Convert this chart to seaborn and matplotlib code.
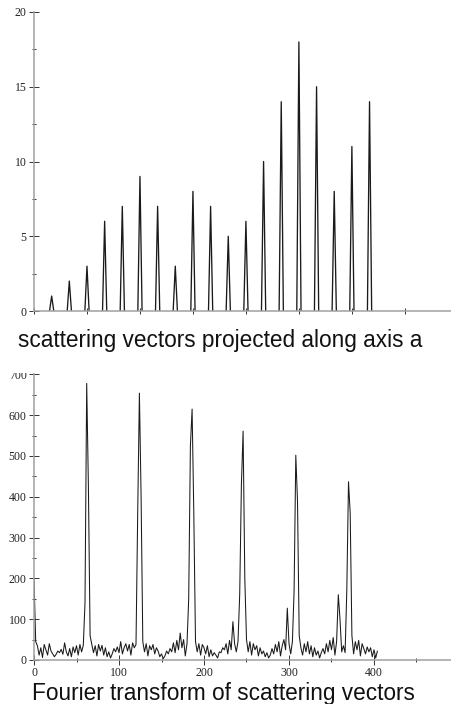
import numpy as np
import pandas as pd
import matplotlib
matplotlib.use('Agg')
import matplotlib.pyplot as plt
from matplotlib.ticker import MultipleLocator, NullFormatter
from matplotlib.patches import Rectangle
import seaborn as sns

# Top panel: peak heights of scattering vectors projected along axis a
peak_pos = list(range(1, 20))
peak_height = [1, 2, 3, 6, 7, 9, 7, 3, 8, 7, 5, 6, 10, 14, 18, 15, 8, 11, 14]

# Bottom panel: Fourier transform, sampled every 2 units from 0 to 404
ft_step = 2
ft_values = [
    200, 45, 35, 12, 30, 6, 38, 25, 12, 40,        # 0-18
    22, 15, 8, 14, 22, 18, 26, 14, 42, 20,         # 20-38
    10, 28, 8, 32, 18, 35, 12, 38, 20, 36,         # 40-58
    140, 678, 425, 60, 38, 18, 35, 10, 38, 22,     # 60-78
    36, 12, 30, 8, 20, 5, 15, 28, 20, 32,          # 80-98
    18, 45, 15, 30, 40, 22, 38, 12, 42, 30,        # 100-118
    38, 360, 654, 400, 45, 20, 40, 10, 35, 25,     # 120-138
    38, 15, 30, 22, 8, 15, 3, 10, 22, 15,          # 140-158
    28, 20, 42, 18, 48, 25, 66, 30, 50, 10,        # 160-178
    40, 150, 525, 615, 360, 45, 20, 40, 12, 38,    # 180-198
    30, 15, 35, 8, 25, 10, 18, 12, 5, 20,          # 200-218
    18, 30, 25, 40, 15, 48, 25, 94, 40, 20,        # 220-238
    45, 160, 430, 561, 200, 50, 20, 45, 12, 40,    # 240-258
    25, 35, 10, 30, 15, 22, 8, 18, 5, 12,          # 260-278
    28, 15, 38, 20, 45, 10, 35, 50, 25, 127,       # 280-298
    40, 15, 45, 170, 502, 390, 60, 30, 12, 40,     # 300-318
    20, 45, 15, 35, 8, 30, 12, 22, 5, 18,          # 320-338
    28, 15, 40, 20, 48, 25, 55, 12, 45, 160,       # 340-358
    100, 20, 35, 18, 170, 437, 360, 60, 15, 45,    # 360-378
    25, 48, 10, 40, 28, 15, 32, 20, 30, 8,         # 380-398
    25, 5, 22,                                     # 400-404
]

top_title = "scattering vectors projected along axis a"
bottom_title = "Fourier transform of scattering vectors"

sns.set_style("ticks")
plt.rcParams['font.family'] = ['Liberation Serif', 'DejaVu Serif']

W, H = 452, 704
fig = plt.figure(figsize=(W / 100, H / 100), dpi=100)

spine_col = '#a0a0a0'
line_col = '#1a1a1a'


def style_axes(ax):
    sns.despine(ax=ax)
    for side in ('left', 'bottom'):
        ax.spines[side].set_color(spine_col)
        ax.spines[side].set_linewidth(1.1)
    ax.tick_params(which='major', direction='inout', length=6.5, width=0.7,
                   color='#333333', labelsize=8.5, pad=2, labelcolor='#222222')
    ax.tick_params(which='minor', direction='inout', length=3, width=0.7,
                   color='#333333')
    ax.set_xlabel('')
    ax.set_ylabel('')
    ax.set_facecolor('white')


# top panel: spikes
half = 0.12
rows = []
for p, h in zip(peak_pos, peak_height):
    rows += [(p, p - half, 0), (p, p, h), (p, p + half, 0)]
spikes = pd.DataFrame(rows, columns=['peak', 'x', 'y'])

ax1 = fig.add_axes([34 / W, (H - 311) / H, 425 / W, 299 / H])
sns.lineplot(data=spikes, x='x', y='y', units='peak', estimator=None,
             color=line_col, linewidth=0.95, ax=ax1)
ax1.set_xlim(0, 425 / 17.66)
ax1.set_ylim(0, 20)
ax1.xaxis.set_major_locator(MultipleLocator(3))
ax1.xaxis.set_major_formatter(NullFormatter())
ax1.yaxis.set_major_locator(MultipleLocator(5))
ax1.yaxis.set_minor_locator(MultipleLocator(2.5))
style_axes(ax1)
ax1.tick_params(axis='x', which='major', length=4)

# bottom panel: fourier transform
ft = pd.DataFrame({'x': np.arange(len(ft_values)) * ft_step, 'y': ft_values})
ax2 = fig.add_axes([34 / W, (H - 660) / H, 425 / W, 285.6 / H])
sns.lineplot(data=ft, x='x', y='y', color=line_col, linewidth=0.75, ax=ax2)
ax2.set_xlim(0, 500)
ax2.set_ylim(0, 700)
ax2.xaxis.set_major_locator(MultipleLocator(100))
ax2.xaxis.set_minor_locator(MultipleLocator(50))
ax2.yaxis.set_major_locator(MultipleLocator(100))
ax2.yaxis.set_minor_locator(MultipleLocator(50))
style_axes(ax2)
ax2.tick_params(axis='x', which='major', pad=2)

fig.text(18 / W, (H - 347) / H, top_title, family=['Liberation Sans', 'DejaVu Sans'],
         fontsize=16.3, va='baseline', ha='left', color='#111111')
fig.text(32 / W, (H - 700) / H, bottom_title, family=['Liberation Sans', 'DejaVu Sans'],
         fontsize=16.3, va='baseline', ha='left', color='#111111')

# the lower picture is cut at its top edge in the original
fig.add_artist(Rectangle((0, (H - 373) / H), 32 / W, 12 / H, transform=fig.transFigure,
                         facecolor='white', edgecolor='none', zorder=10))

fig.savefig('out.png', dpi=100)
